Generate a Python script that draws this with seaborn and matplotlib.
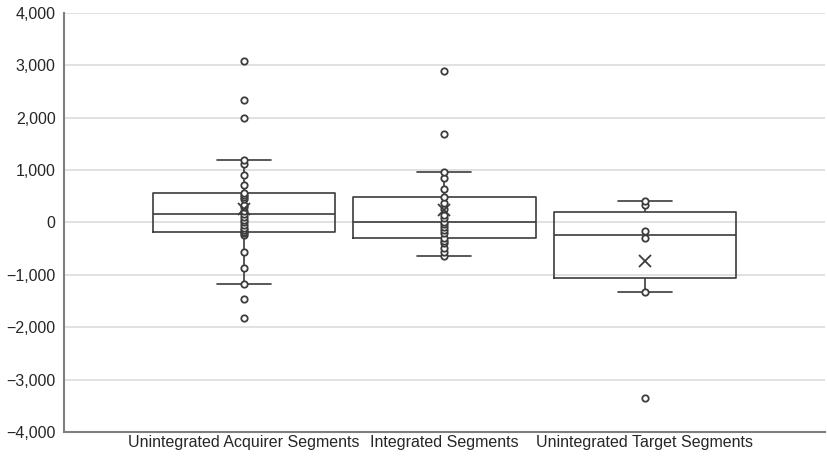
import matplotlib
matplotlib.use("Agg")
import matplotlib.pyplot as plt
import matplotlib.ticker as mticker
import pandas as pd
import seaborn as sns

# values (all points, outliers included)
categories = ["Unintegrated Acquirer Segments", "Integrated Segments", "Unintegrated Target Segments"]
acquirer = [-1829, -1466, -1174, -875, -570, -230, -210, -187, -150, -100, -40, 15, 50, 110,
            162, 220, 300, 334, 450, 480, 530, 563, 716, 907, 1115, 1193, 1995, 2333, 3077]
integrated = [-634, -560, -480, -400, -350, -302, -206, -150, -80, -30, 15, 80, 150, 250,
              367, 481, 634, 842, 958, 1690, 2898]
target = [-3357, -1320, -300, -170, 334, 416]
y_ticks = [-4000, -3000, -2000, -1000, 0, 1000, 2000, 3000, 4000]

df = pd.concat([
    pd.DataFrame({"segment": categories[0], "value": acquirer}),
    pd.DataFrame({"segment": categories[1], "value": integrated}),
    pd.DataFrame({"segment": categories[2], "value": target}),
], ignore_index=True)

sns.set_theme(style="white")
plt.rcParams["font.family"] = ["Liberation Sans", "DejaVu Sans"]

dark = "#3c3c3c"
fig = plt.figure(figsize=(8.27, 4.57), dpi=100)
ax = fig.add_axes([0.0774, 0.0547, 0.92, 0.917])

sns.boxplot(data=df, x="segment", y="value", order=categories, ax=ax,
            fill=False, color=dark, width=0.91, linewidth=1.2, showfliers=False,
            showmeans=True, capwidths=0.27,
            meanprops=dict(marker="x", markeredgecolor=dark, markersize=9,
                           markeredgewidth=1.3, zorder=5))
sns.stripplot(data=df, x="segment", y="value", order=categories, ax=ax,
              jitter=False, color="white", edgecolor=dark, linewidth=1.3,
              size=4.6, zorder=4)

ax.set_xlim(-0.9, 2.9)
ax.set_ylim(-4000, 4000)
ax.set_yticks(y_ticks)
ax.yaxis.set_major_formatter(mticker.FuncFormatter(
    lambda v, p: f"{v:,.0f}".replace("-", "\u2212")))
ax.yaxis.grid(True, color="#dcdcdc", linewidth=1.2)
ax.set_axisbelow(True)
ax.set_xlabel("")
ax.set_ylabel("")
for side in ["top", "right"]:
    ax.spines[side].set_visible(False)
for side in ["left", "bottom"]:
    ax.spines[side].set_color("#7f7f7f")
    ax.spines[side].set_linewidth(1.5)
ax.tick_params(axis="both", length=0, labelsize=11.5, labelcolor="#262626")
ax.tick_params(axis="y", pad=6)
ax.tick_params(axis="x", pad=2)

fig.savefig("out.png", dpi=100)
